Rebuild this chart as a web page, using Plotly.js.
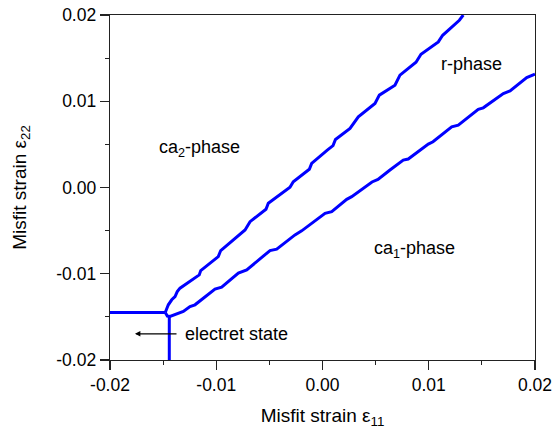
<!DOCTYPE html>
<html><head><meta charset="utf-8">
<script src="https://cdn.plot.ly/plotly-3.0.1.min.js"></script>
<style>html,body{margin:0;padding:0;background:#fff;}#chart{width:553px;height:430px;}</style>
</head><body><div id="chart"></div>
<script>
// ca2 / r-phase boundary
const upperX = [-0.0148,-0.01451,-0.01419,-0.01388,-0.01367,-0.01341,-0.0116,-0.01146,-0.00981,-0.00958,-0.00729,-0.00682,-0.00532,-0.0051,-0.00306,-0.00275,-0.00124,-0.00102,0.00045,0.00099,0.00122,0.00259,0.00337,0.00494,0.00535,0.00682,0.00729,0.0088,0.00927,0.0109,0.01131,0.01288,0.01325];
const upperY = [-0.0145,-0.0136,-0.01302,-0.01264,-0.01206,-0.01167,-0.01013,-0.00963,-0.00801,-0.00731,-0.00492,-0.00396,-0.00252,-0.00183,0.00002,0.00067,0.00211,0.0028,0.00434,0.00486,0.00556,0.00685,0.00819,0.00975,0.01071,0.01186,0.01302,0.01453,0.01545,0.01688,0.01765,0.01939,0.02];
// r / ca1-phase boundary
const lowerX = [-0.0148,-0.0146,-0.01435,-0.01388,-0.0131,-0.01247,-0.012,-0.01012,-0.00949,-0.00792,-0.00713,-0.00494,-0.00431,-0.00259,-0.00196,0.00024,0.00087,0.00228,0.00275,0.00466,0.00522,0.00635,0.0076,0.00807,0.00996,0.0104,0.01216,0.01278,0.01466,0.01513,0.01702,0.01765,0.01922,0.02];
const lowerY = [-0.0145,-0.0149,-0.01495,-0.01476,-0.01437,-0.0138,-0.0136,-0.01178,-0.01155,-0.00993,-0.00955,-0.00731,-0.00715,-0.0055,-0.00503,-0.00299,-0.0028,-0.00137,-0.00106,0.00064,0.00093,0.00203,0.00318,0.0033,0.00503,0.0053,0.00704,0.00723,0.00905,0.00924,0.0109,0.0112,0.01275,0.01314];
// electret-state boundaries
const leftX = [-0.02,-0.0148];
const leftY = [-0.0145,-0.0145];
const bottomX = [-0.01442,-0.01442];
const bottomY = [-0.01495,-0.02];

const tickVals = [-0.02,-0.01,0.00,0.01,0.02];
const tickText = ['-0.02','-0.01','0.00','0.01','0.02'];

const phaseLabels = ['ca<sub>2</sub>-phase','r-phase','ca<sub>1</sub>-phase'];
const phaseX = [-0.01162,0.01401,0.00864];
const phaseY = [0.0045,0.01437,-0.00723];

const font = 'Liberation Sans, Arial, sans-serif';
const lineStyle = {color:'#0000ff', width:3};

const traces = [
  {x:upperX, y:upperY, mode:'lines', line:lineStyle, hoverinfo:'skip'},
  {x:lowerX, y:lowerY, mode:'lines', line:lineStyle, hoverinfo:'skip'},
  {x:leftX, y:leftY, mode:'lines', line:lineStyle, hoverinfo:'skip'},
  {x:bottomX, y:bottomY, mode:'lines', line:lineStyle, hoverinfo:'skip'}
];

const axisCommon = {
  showgrid:false, zeroline:false, showline:true, linecolor:'#222', linewidth:1.3,
  mirror:true, ticks:'outside', ticklen:9, tickwidth:1.2, tickcolor:'#222',
  tickvals:tickVals, ticktext:tickText,
  tickfont:{family:font, size:17.5, color:'#000'},
  minor:{ticks:'outside', ticklen:4, tickwidth:1.2, tickcolor:'#222', dtick:0.005, showgrid:false}
};

const annotations = phaseLabels.map((t,i)=>({
  x:phaseX[i], y:phaseY[i], xref:'x', yref:'y', text:t, showarrow:false,
  font:{family:font, size:18, color:'#000'}
}));
annotations.push({x:-0.01316, y:-0.01696, xref:'x', yref:'y', text:'electret state', showarrow:false,
  xanchor:'left', font:{family:font, size:18, color:'#000'}});
annotations.push({x:-0.01765, y:-0.01696, ax:-0.0136, ay:-0.01696, axref:'x', ayref:'y', xref:'x', yref:'y',
  text:'', showarrow:true, arrowhead:2, arrowsize:0.9, arrowwidth:1.2, arrowcolor:'#000'});

const layout = {
  width:553, height:430,
  margin:{l:110, r:18, t:15, b:70},
  paper_bgcolor:'#fff', plot_bgcolor:'#fff',
  showlegend:false,
  xaxis:Object.assign({}, axisCommon, {range:[-0.02,0.02],
    title:{text:'Misfit strain ε<sub>11</sub>', font:{family:font, size:19, color:'#000'}, standoff:14}}),
  yaxis:Object.assign({}, axisCommon, {range:[-0.02,0.02],
    title:{text:'Misfit strain ε<sub>22</sub>', font:{family:font, size:19, color:'#000'}, standoff:24}}),
  annotations:annotations
};

Plotly.newPlot('chart', traces, layout, {displayModeBar:false, staticPlot:true});
</script>
</body></html>
